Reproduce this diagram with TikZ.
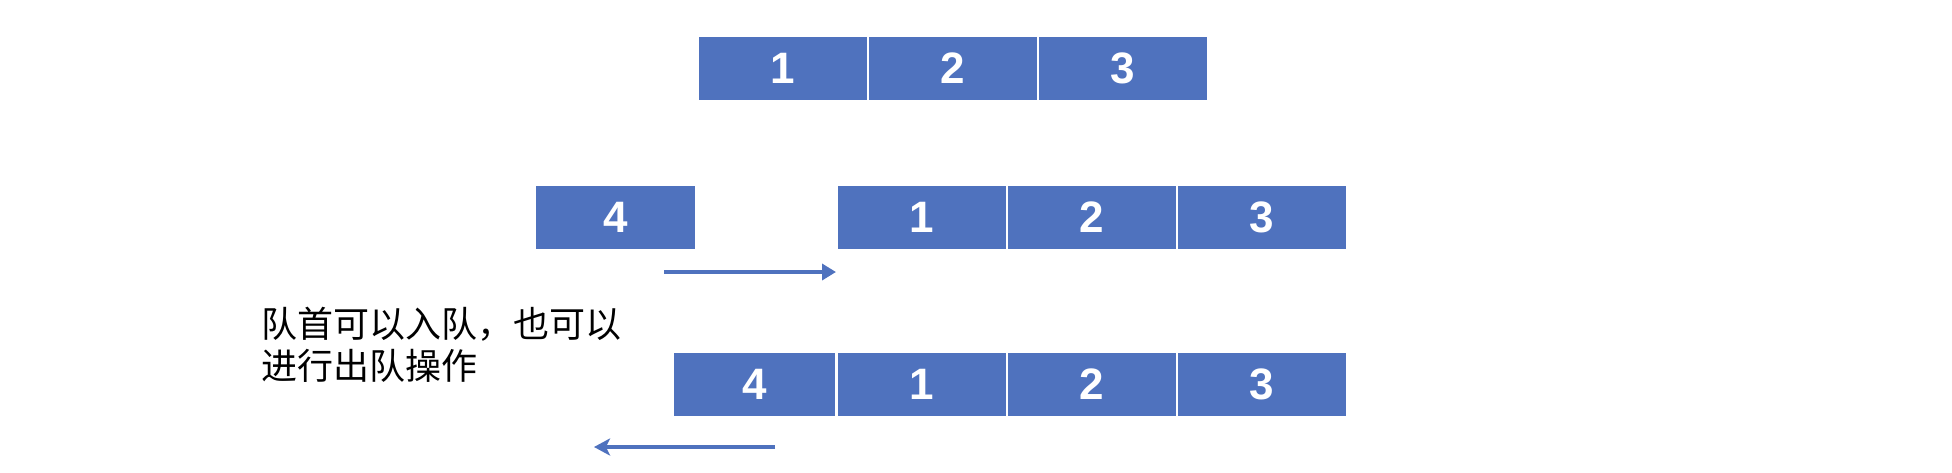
\documentclass[tikz,border=0pt]{standalone}
\usepackage{fontspec}
\setmainfont{Liberation Sans}
\newfontfamily\cjk{Noto Sans CJK SC}
\usetikzlibrary{arrows.meta}
\definecolor{qblue}{RGB}{79,114,190}
\tikzset{
  cell/.style={fill=qblue, draw=white, line width=0.8pt, minimum height=32.5pt, minimum width=85pt, inner sep=0pt,
    text=white, font=\fontsize{22}{24}\selectfont\bfseries},
  flow/.style={draw=qblue, line width=2pt, -{Triangle[length=7pt,width=8pt]}},
  flowback/.style={draw=qblue, line width=2pt, -{Stealth[length=8pt,width=8.5pt,inset=2pt]}},
  note/.style={font=\cjk\fontsize{18}{21}\selectfont, align=left, inner sep=0pt, anchor=north west}
}
\begin{document}
\begin{tikzpicture}[x=0.5pt,y=-0.5pt]
\useasboundingbox (0,0) rectangle (1952,472);
% top row
\node[cell] (a1) at (783,68.5) {1};
\node[cell] (a2) at (953,68.5) {2};
\node[cell] (a3) at (1123,68.5) {3};
% middle row
\node[cell, minimum width=80.5pt] (b4) at (615.5,217.5) {4};
\node[cell] (b1) at (922,217.5) {1};
\node[cell] (b2) at (1092,217.5) {2};
\node[cell] (b3) at (1262,217.5) {3};
\coordinate (ra) at (664,272);
\coordinate (rb) at (836,272);
\draw[flow] (ra) -- (rb);
% bottom row
\node[cell, minimum width=81.5pt] (c4) at (754.5,384.5) {4};
\node[cell] (c1) at (922,384.5) {1};
\node[cell] (c2) at (1092,384.5) {2};
\node[cell] (c3) at (1262,384.5) {3};
\coordinate (la) at (775,447);
\coordinate (lb) at (594,447);
\draw[flowback] (la) -- (lb);
% note
\node[note] (txt) at (261,307) {队首可以入队，也可以\\进行出队操作};
\end{tikzpicture}
\end{document}
